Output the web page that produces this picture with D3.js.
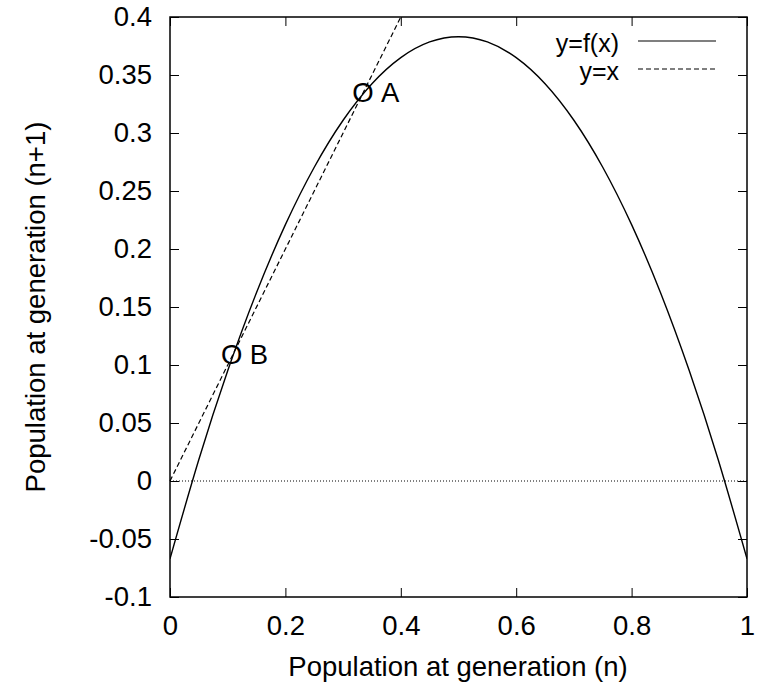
<!DOCTYPE html>
<html><head><meta charset="utf-8">
<script src="https://cdn.jsdelivr.net/npm/d3@7"></script>
<style>body{margin:0;background:#fff}svg{display:block}text{font-family:"Liberation Sans",Arial,sans-serif;fill:#000}</style>
</head><body>
<script>
const curveX = [0,0.05,0.1,0.15,0.2,0.25,0.3,0.35,0.4,0.45,0.5,0.55,0.6,0.65,0.7,0.75,0.8,0.85,0.9,0.95,1];
const curveY = [-0.067,0.0185,0.095,0.1625,0.221,0.2705,0.311,0.3425,0.365,0.3785,0.383,0.3785,0.365,0.3425,0.311,0.2705,0.221,0.1625,0.095,0.0185,-0.067];
const diagX = [0,0.4];
const diagY = [0,0.4];
const xTicks = [0,0.2,0.4,0.6,0.8,1];
const yTicks = [-0.1,-0.05,0,0.05,0.1,0.15,0.2,0.25,0.3,0.35,0.4];
const points = [{label:"A",x:0.3345,y:0.335},{label:"B",x:0.107,y:0.1095}];
const legendLabels = ["y=f(x)","y=x"];

const W=757,H=686, L=170,R=747,T=17,B=597, FS=27.5;
const svg=d3.select("body").append("svg").attr("width",W).attr("height",H);
const x=d3.scaleLinear().domain([0,1]).range([L,R]);
const y=d3.scaleLinear().domain([-0.1,0.4]).range([B,T]);

// zero line
svg.append("line").attr("x1",L).attr("x2",R).attr("y1",y(0)).attr("y2",y(0))
  .attr("stroke","#000").attr("stroke-width",1).attr("stroke-dasharray","1,2");

const fmt = d=> d===0?"0":String(d);
const styleText = g=>{g.select(".domain").remove();g.selectAll("text").attr("font-size",FS).attr("font-family","Liberation Sans, Arial, sans-serif");};
svg.append("g").attr("transform",`translate(0,${B})`)
  .call(d3.axisBottom(x).tickValues(xTicks).tickFormat(fmt).tickSizeInner(-9).tickSizeOuter(0).tickPadding(18))
  .call(styleText);
svg.append("g").attr("transform",`translate(0,${T})`)
  .call(d3.axisTop(x).tickValues(xTicks).tickFormat("").tickSizeInner(-9).tickSizeOuter(0))
  .call(g=>g.select(".domain").remove());
svg.append("g").attr("transform",`translate(${L},0)`)
  .call(d3.axisLeft(y).tickValues(yTicks).tickFormat(fmt).tickSizeInner(-9).tickSizeOuter(0).tickPadding(18))
  .call(styleText);
svg.append("g").attr("transform",`translate(${R},0)`)
  .call(d3.axisRight(y).tickValues(yTicks).tickFormat("").tickSizeInner(-9).tickSizeOuter(0))
  .call(g=>g.select(".domain").remove());
svg.selectAll(".tick line").attr("stroke","#000").attr("stroke-width",1);

// border
svg.append("rect").attr("x",L).attr("y",T).attr("width",R-L).attr("height",B-T)
  .attr("fill","none").attr("stroke","#000").attr("stroke-width",1.5);

svg.append("clipPath").attr("id","c").append("rect").attr("x",L).attr("y",T).attr("width",R-L).attr("height",B-T);
const line=d3.line().x(d=>x(d[0])).y(d=>y(d[1]));
svg.append("path").datum(curveX.map((v,i)=>[v,curveY[i]]))
  .attr("d",line.curve(d3.curveNatural)).attr("fill","none").attr("stroke","#000").attr("stroke-width",1.4).attr("clip-path","url(#c)");
svg.append("path").datum(diagX.map((v,i)=>[v,diagY[i]]))
  .attr("d",d3.line().x(d=>x(d[0])).y(d=>y(d[1]))).attr("fill","none").attr("stroke","#000").attr("stroke-width",1.2).attr("stroke-dasharray","5,3");

// point labels
points.forEach(p=>{
  svg.append("text").attr("x",x(p.x)).attr("y",y(p.y)).attr("text-anchor","middle").attr("dy","0.36em").attr("font-size",FS).text("O");
  svg.append("text").attr("x",x(p.x)+18).attr("y",y(p.y)).attr("dy","0.36em").attr("font-size",FS).text(p.label);
});

// legend
legendLabels.forEach((lab,i)=>{
  const ly=41+i*28;
  svg.append("text").attr("x",619).attr("y",52+i*28).attr("text-anchor","end").attr("font-size",25).text(lab);
  svg.append("line").attr("x1",638).attr("x2",716).attr("y1",ly).attr("y2",ly).attr("stroke","#000")
    .attr("stroke-width",1.2).attr("stroke-dasharray",i===1?"5,3":null);
});

// axis titles
svg.append("text").attr("x",458).attr("y",676).attr("text-anchor","middle").attr("font-size",FS).text("Population at generation (n)");
svg.append("text").attr("transform",`translate(45,${(T+B)/2}) rotate(-90)`).attr("text-anchor","middle").attr("font-size",FS).text("Population at generation (n+1)");
</script>
</body></html>
